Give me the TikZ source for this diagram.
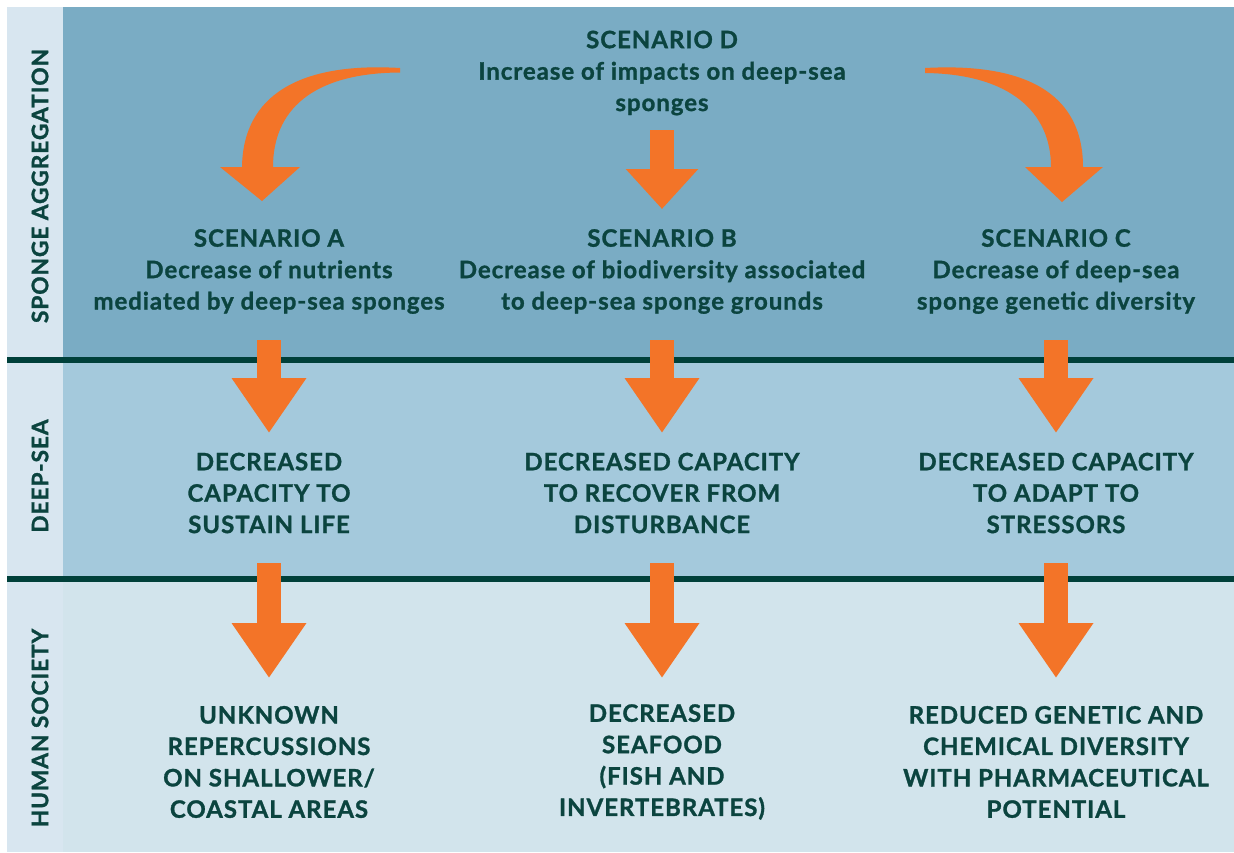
\documentclass[tikz,border=0pt]{standalone}
\usepackage{fontspec}
\setmainfont{Lato}[BoldFeatures={FakeBold=1.2,LetterSpace=4.0}]
\usetikzlibrary{arrows.meta}
\definecolor{bandtop}{HTML}{7AACC4}
\definecolor{bandmid}{HTML}{A4C9DC}
\definecolor{bandbot}{HTML}{D2E4EC}
\definecolor{labelcol}{HTML}{D8E6F0}
\definecolor{darkline}{HTML}{00403A}
\definecolor{txtc}{HTML}{0B443F}
\definecolor{orangec}{HTML}{F37428}
\begin{document}
\begin{tikzpicture}[x=1pt,y=-1pt,
  txt/.style={text=txtc, font=\bfseries\fontsize{24}{31.4}\selectfont, align=center, inner sep=0pt},
  lbl/.style={text=txtc, font=\bfseries\fontsize{22.7}{26}\selectfont, inner sep=0pt, rotate=90},
  sarrow/.style={orangec, line width=24pt, -{Triangle[width=71pt,length=55pt]}},
  darrow/.style={orangec, line width=24pt, -{Triangle[width=70pt,length=40pt]}},
]
\useasboundingbox (0,0) rectangle (1234,852);
\fill[white] (0,0) rectangle (1234,852);
\fill[bandtop] (7,7) rectangle (1234,359);
\fill[bandmid] (7,359) rectangle (1234,578);
\fill[bandbot] (7,578) rectangle (1234,852);
\fill[labelcol] (7,7) rectangle (63,852);
\fill[darkline] (7,356.5) rectangle (1234,362.5);
\fill[darkline] (7,575.5) rectangle (1234,581.5);

% row labels
\node[lbl] (l1) at (40,186) {SPONGE AGGREGATION};
\node[lbl] (l2) at (40,476) {DEEP-SEA};
\node[lbl] (l3) at (40,728) {HUMAN SOCIETY};

% texts
\node[txt] (d) at (662,73) {SCENARIO D\\Increase of impacts on deep-sea\\sponges};
\node[txt] (sa) at (269,271.5) {SCENARIO A\\Decrease of nutrients\\mediated by deep-sea sponges};
\node[txt] (sb) at (662,271.5) {SCENARIO B\\Decrease of biodiversity associated\\to deep-sea sponge grounds};
\node[txt] (sc) at (1056,271.5) {SCENARIO C\\Decrease of deep-sea\\sponge genetic diversity};
\node[txt] (ma) at (269,493) {DECREASED\\CAPACITY TO\\SUSTAIN LIFE};
\node[txt] (mb) at (662,493) {DECREASED CAPACITY\\TO RECOVER FROM\\DISTURBANCE};
\node[txt] (mc) at (1056,493) {DECREASED CAPACITY\\TO ADAPT TO\\STRESSORS};
\node[txt] (ba) at (269,762) {UNKNOWN\\REPERCUSSIONS\\ON SHALLOWER/\\COASTAL AREAS};
\node[txt] (bb) at (662,762) {DECREASED\\SEAFOOD\\(FISH AND\\INVERTEBRATES)};
\node[txt] (bc) at (1056,762) {REDUCED GENETIC AND\\CHEMICAL DIVERSITY\\WITH PHARMACEUTICAL\\POTENTIAL};

% curved arrows from D
\coordinate (dl) at (400,70);
\coordinate (dr) at (925,70);
\fill[orangec] (dl) ++(0,-2) .. controls (300,62) and (243,95) .. (242,167)
  -- (220,167) -- (262,201) -- (300,167) -- (273,167)
  .. controls (273,112) and (310,73) .. (400,72.5) -- cycle;
\fill[orangec] (dr) ++(0,-2) .. controls (1035,62) and (1083,100) .. (1083,167)
  -- (1103,167) -- (1062,202) -- (1025,167) -- (1051,167)
  .. controls (1051,112) and (1010,74) .. (925,73) -- cycle;

% straight arrows
\coordinate (db0) at (662,130);
\coordinate (db1) at (662,209);
\draw[darrow] (db0) -- (db1);
\foreach \c/\x in {a/269,b/662,c/1056}{
  \coordinate (m\c0) at (\x,340);
  \coordinate (m\c1) at (\x,433);
  \coordinate (b\c0) at (\x,563);
  \coordinate (b\c1) at (\x,678);
  \draw[sarrow] (m\c0) -- (m\c1);
  \draw[sarrow] (b\c0) -- (b\c1);
}
\end{tikzpicture}
\end{document}
